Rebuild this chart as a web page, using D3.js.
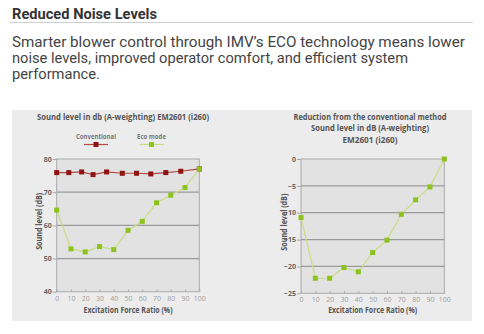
<!DOCTYPE html>
<html lang="en">
    <head>
        <meta charset="utf-8">
        <title>Reduced Noise Levels</title>
        <script type="text/javascript" src="https://cdn.jsdelivr.net/npm/d3@7"></script>
        <style>
            body { margin: 0; background: #fff; }
            .chart text { font-family: "Liberation Sans Narrow", "Open Sans", sans-serif; }
            .axis path { stroke: #aaa; }
            .axis line { stroke: #aaa; }
            .axis text { font-size: 7px; fill: #a0a0a0; }
            .yaxis text { fill: #666; font-weight: bold; }
        </style>
    </head>
    <body>
        <script type="text/javascript">
            var w = 484;
            var h = 334;

            var heading = "Reduced Noise Levels";
            var paragraph = ["Smarter blower control through IMV\u2019s ECO technology means lower",
                             "noise levels, improved operator comfort, and efficient system",
                             "performance."];
            // rendered widths of the intro lines
            var paraWidth = [453, 396, 88];

            // x axis ticks shared by both charts
            var xTicks = [0, 10, 20, 30, 40, 50, 60, 70, 80, 90, 100];

            // left chart: conventional vs eco mode (dB)
            var convX = [0, 8.5, 17.5, 25.5, 35, 46, 56, 66, 76.5, 87, 100];
            var convY = [75.9, 75.9, 76.1, 75.3, 76.1, 75.7, 75.7, 75.5, 75.9, 76.3, 77.0];
            var ecoX = [0, 10, 20, 30, 40, 50, 60, 70, 80, 90, 100];
            var ecoY = [64.6, 52.9, 52.0, 53.6, 52.7, 58.5, 61.2, 66.8, 69.1, 71.4, 77.0];
            var leftYTicks = [40, 50, 60, 70, 80];

            // right chart: reduction from conventional (dB)
            var redX = [0, 10, 20, 30, 40, 50, 60, 70, 80, 90, 100];
            var redY = [-10.9, -22.2, -22.2, -20.2, -21.0, -17.4, -15.1, -10.3, -7.6, -5.2, 0];
            var rightYTicks = [-25, -20, -15, -10, -5, 0];

            var convColor = "#b24a4c", convMark = "#8e1414";
            var ecoColor = "#c9dd86", ecoMark = "#8dc21f";

            var svg = d3.select("body").append("svg").attr("width", w).attr("height", h);

            // heading + intro text
            svg.append("text").text(heading)
               .attr("x", 12).attr("y", 18.5)
               .attr("font-family", "Roboto, sans-serif").attr("font-weight", "bold")
               .attr("font-size", "14px").attr("fill", "#333")
               .attr("textLength", 145).attr("lengthAdjust", "spacingAndGlyphs");
            svg.append("line").attr("x1", 10).attr("x2", 473).attr("y1", 22.5).attr("y2", 22.5)
               .attr("stroke", "#d0d0d0");
            svg.selectAll("text.para").data(paragraph).enter().append("text")
               .attr("class", "para")
               .text(function (d) { return d; })
               .attr("x", 12).attr("y", function (d, i) { return 47 + i * 16; })
               .attr("font-family", "Roboto, sans-serif").attr("font-size", "14.5px")
               .attr("fill", "#444")
               .attr("textLength", function (d, i) { return paraWidth[i]; })
               .attr("lengthAdjust", "spacingAndGlyphs");

            var chart = svg.append("g").attr("class", "chart");
            chart.append("rect").attr("x", 12).attr("y", 110).attr("width", 460).attr("height", 211)
                 .attr("fill", "#ececec");

            function drawPlot(opt) {
                var g = chart.append("g");
                var xscale = d3.scaleLinear().domain([0, 100]).range([opt.left, opt.right]);
                var yscale = d3.scaleLinear().domain(opt.ydomain).range([opt.bottom, opt.top]);

                g.append("rect").attr("x", opt.left).attr("y", opt.top)
                 .attr("width", opt.right - opt.left).attr("height", opt.bottom - opt.top)
                 .attr("fill", "#e2e2e2").attr("stroke", "#aaa");

                g.selectAll("line.grid").data(opt.yticks.slice(1, -1)).enter().append("line")
                 .attr("class", "grid")
                 .attr("x1", opt.left).attr("x2", opt.right)
                 .attr("y1", function (d) { return yscale(d); })
                 .attr("y2", function (d) { return yscale(d); })
                 .attr("stroke", "#9a9a9a").attr("stroke-width", 1.2);

                g.append("g").attr("class", "axis yaxis")
                 .attr("transform", "translate(" + opt.left + ",0)")
                 .call(d3.axisLeft(yscale).tickValues(opt.yticks).tickSize(4).tickPadding(1))
                 .select(".domain").remove();
                g.append("g").attr("class", "axis")
                 .attr("transform", "translate(0," + opt.bottom + ")")
                 .call(d3.axisBottom(xscale).tickValues(xTicks).tickSize(-2).tickPadding(4))
                 .select(".domain").remove();

                g.append("text").text("Excitation Force Ratio (%)")
                 .attr("x", (opt.left + opt.right) / 2).attr("y", 313)
                 .attr("text-anchor", "middle").attr("font-size", "9px")
                 .attr("font-weight", "bold").attr("fill", "#555")
                 .attr("textLength", 89).attr("lengthAdjust", "spacingAndGlyphs");
                g.append("text").text("Sound level (dB)")
                 .attr("transform", "translate(" + opt.ylabelX + "," + ((opt.top + opt.bottom) / 2 - 4) + ") rotate(-90)")
                 .attr("text-anchor", "middle").attr("font-size", "9px")
                 .attr("font-weight", "bold").attr("fill", "#555")
                 .attr("textLength", 57).attr("lengthAdjust", "spacingAndGlyphs");

                g.selectAll("text.title").data(opt.title).enter().append("text")
                 .attr("class", "title")
                 .text(function (d) { return d.t; })
                 .attr("x", opt.titleX).attr("y", function (d, i) { return opt.titleY + i * 11.5; })
                 .attr("text-anchor", "middle").attr("font-size", "9.5px")
                 .attr("font-weight", "bold").attr("fill", "#555")
                 .attr("textLength", function (d) { return d.len; })
                 .attr("lengthAdjust", "spacingAndGlyphs");

                opt.series.forEach(function (s) {
                    var pts = s.x.map(function (v, i) { return [v, s.y[i]]; });
                    g.append("path").datum(pts)
                     .attr("fill", "none").attr("stroke", s.line).attr("stroke-width", 1.2)
                     .attr("d", d3.line().x(function (d) { return xscale(d[0]); })
                                         .y(function (d) { return yscale(d[1]); }));
                    g.selectAll(null).data(pts).enter().append("rect")
                     .attr("x", function (d) { return xscale(d[0]) - 2.5; })
                     .attr("y", function (d) { return yscale(d[1]) - 2.5; })
                     .attr("width", 5).attr("height", 5)
                     .attr("fill", s.mark);
                });
            }

            drawPlot({
                left: 56.7, right: 199.3, top: 159, bottom: 291.7,
                ydomain: [40, 80], yticks: leftYTicks, ylabelX: 42,
                titleX: 123, titleY: 120,
                title: [{ t: "Sound level in db (A-weighting) EM2601 (i260)", len: 172 }],
                series: [{ x: convX, y: convY, line: convColor, mark: convMark },
                         { x: ecoX, y: ecoY, line: ecoColor, mark: ecoMark }]
            });

            drawPlot({
                left: 301, right: 444.3, top: 159, bottom: 293.3,
                ydomain: [-25, 0], yticks: rightYTicks, ylabelX: 287,
                titleX: 370, titleY: 119.5,
                title: [{ t: "Reduction from the conventional method", len: 153 },
                        { t: "Sound level in dB (A-weighting)", len: 118 },
                        { t: "EM2601 (i260)", len: 55 }],
                series: [{ x: redX, y: redY, line: ecoColor, mark: ecoMark }]
            });

            // legend for left chart
            var legend = [{ name: "Conventional", cx: 96, w: 40, line: convColor, mark: convMark },
                          { name: "Eco mode", cx: 151.5, w: 29, line: ecoColor, mark: ecoMark }];
            var lg = chart.selectAll("g.legend").data(legend).enter().append("g").attr("class", "legend");
            lg.append("text").text(function (d) { return d.name; })
              .attr("x", function (d) { return d.cx; }).attr("y", 139)
              .attr("text-anchor", "middle").attr("font-size", "7.5px")
              .attr("font-weight", "bold").attr("fill", "#777")
              .attr("textLength", function (d) { return d.w; })
              .attr("lengthAdjust", "spacingAndGlyphs");
            lg.append("line")
              .attr("x1", function (d) { return d.cx - 12; }).attr("x2", function (d) { return d.cx + 12; })
              .attr("y1", 144.5).attr("y2", 144.5)
              .attr("stroke", function (d) { return d.line; }).attr("stroke-width", 1.2);
            lg.append("rect")
              .attr("x", function (d) { return d.cx - 2.5; }).attr("y", 142)
              .attr("width", 5).attr("height", 5)
              .attr("fill", function (d) { return d.mark; });
        </script>
    </body>
</html>
